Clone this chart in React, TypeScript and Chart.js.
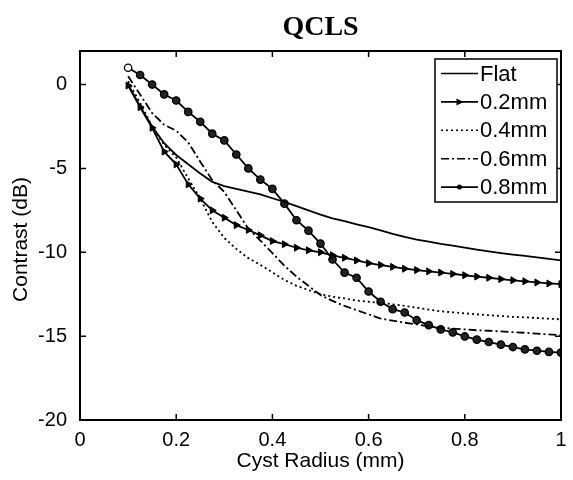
import React, { useEffect, useRef } from "react";
import { Chart, registerables } from "chart.js";

Chart.register(...registerables);

const chartTitle = "QCLS";
const xAxisTitle = "Cyst Radius (mm)";
const yAxisTitle = "Contrast (dB)";

const xTicks = [0, 0.2, 0.4, 0.6, 0.8, 1];
const yTicks = [-20, -15, -10, -5, 0];

const seriesNames = ["Flat", "0.2mm", "0.4mm", "0.6mm", "0.8mm"];

const radius = [
  0.1, 0.125, 0.15, 0.175, 0.2, 0.225, 0.25, 0.275, 0.3, 0.325, 0.35, 0.375,
  0.4, 0.425, 0.45, 0.475, 0.5, 0.525, 0.55, 0.575, 0.6, 0.625, 0.65, 0.675,
  0.7, 0.725, 0.75, 0.775, 0.8, 0.825, 0.85, 0.875, 0.9, 0.925, 0.95, 0.975, 1.0,
];

const flat = [
  0, -1.3, -2.5, -3.5, -4.2, -4.75, -5.3, -5.8, -6.05, -6.22, -6.38, -6.55,
  -6.78, -7.0, -7.25, -7.5, -7.75, -7.98, -8.15, -8.33, -8.5, -8.7, -8.9, -9.08,
  -9.24, -9.37, -9.5, -9.6, -9.72, -9.84, -9.95, -10.05, -10.14, -10.22, -10.3,
  -10.4, -10.48,
];

const mm02 = [
  -0.06, -1.35, -2.58, -4.0, -4.76, -5.95, -6.8, -7.5, -7.94, -8.38, -8.67,
  -8.99, -9.33, -9.52, -9.73, -9.88, -10.0, -10.18, -10.33, -10.49, -10.65,
  -10.76, -10.87, -10.98, -11.06, -11.14, -11.21, -11.29, -11.37, -11.45,
  -11.52, -11.6, -11.67, -11.73, -11.8, -11.86, -11.9,
];

const mm04 = [
  0.2, -1.1, -2.5, -3.6, -4.35, -5.6, -6.8, -8.2, -9.15, -9.8, -10.35, -10.75,
  -11.2, -11.65, -12.0, -12.25, -12.5, -12.65, -12.75, -12.88, -12.95, -13.02,
  -13.1, -13.2, -13.3, -13.42, -13.52, -13.58, -13.64, -13.7, -13.75, -13.8,
  -13.85, -13.88, -13.92, -13.96, -14.0,
];

const mm06 = [
  0.49, -0.6, -1.7, -2.4, -2.75, -3.45, -4.6, -5.7, -6.4, -7.5, -8.6, -9.3,
  -10.05, -10.8, -11.45, -12.0, -12.55, -12.9, -13.2, -13.45, -13.7, -13.95,
  -14.08, -14.2, -14.3, -14.42, -14.5, -14.55, -14.6, -14.65, -14.68, -14.72,
  -14.76, -14.8, -14.85, -14.9, -14.94,
];

const mm08 = [
  1.0, 0.57, 0.0, -0.59, -0.95, -1.63, -2.22, -2.93, -3.33, -4.17, -5.0, -5.67,
  -6.22, -7.1, -8.09, -8.71, -9.48, -10.43, -11.21, -11.52, -12.34, -12.95,
  -13.39, -13.59, -14.05, -14.34, -14.6, -14.78, -15.02, -15.21, -15.35,
  -15.51, -15.65, -15.79, -15.87, -15.94, -15.98,
];

const FONT = "'Liberation Sans', Arial, Helvetica, sans-serif";
const SERIF = "'Liberation Serif', 'Times New Roman', serif";

const dashes: number[][] = [[], [], [2, 3], [8, 3, 2, 3], []];

const toPts = (ys: number[]) => radius.map((x, i) => ({ x, y: ys[i] }));

const framePlugin = {
  id: "frame",
  afterDatasetsDraw(chart: any) {
    const { ctx, chartArea: a, scales } = chart;
    const xs = scales.x;
    const ys = scales.y;
    ctx.save();
    ctx.strokeStyle = "#000";
    ctx.lineWidth = 1.5;
    ctx.beginPath();
    const tl = 6;
    xTicks.forEach((v) => {
      const px = xs.getPixelForValue(v);
      ctx.moveTo(px, a.bottom);
      ctx.lineTo(px, a.bottom - tl);
      ctx.moveTo(px, a.top);
      ctx.lineTo(px, a.top + tl);
    });
    yTicks.forEach((v) => {
      const py = ys.getPixelForValue(v);
      ctx.moveTo(a.left, py);
      ctx.lineTo(a.left + tl, py);
      ctx.moveTo(a.right, py);
      ctx.lineTo(a.right - tl, py);
    });
    ctx.stroke();
    ctx.lineWidth = 2;
    ctx.strokeRect(a.left, a.top, a.right - a.left, a.bottom - a.top);

    // titles
    ctx.fillStyle = "#000";
    ctx.textAlign = "center";
    ctx.textBaseline = "middle";
    ctx.font = "bold 28px " + SERIF;
    ctx.fillText(chartTitle, (a.left + a.right) / 2, 28);
    ctx.font = "21px " + FONT;
    ctx.fillText(xAxisTitle, (a.left + a.right) / 2, 461);
    ctx.save();
    ctx.translate(21, (a.top + a.bottom) / 2 + 4);
    ctx.rotate(-Math.PI / 2);
    ctx.fillText(yAxisTitle, 0, 0);
    ctx.restore();
    ctx.restore();
  },
};

const legendPlugin = {
  id: "boxLegend",
  afterDraw(chart: any) {
    const { ctx } = chart;
    const bx = 435, by = 59, bw = 122, bh = 143;
    ctx.save();
    ctx.fillStyle = "#fff";
    ctx.fillRect(bx, by, bw, bh);
    ctx.strokeStyle = "#000";
    ctx.lineWidth = 1.5;
    ctx.strokeRect(bx, by, bw, bh);
    const rowH = 28.4;
    seriesNames.forEach((name, i) => {
      const y = by + 14.5 + i * rowH;
      const x0 = bx + 6, x1 = bx + 43;
      ctx.save();
      ctx.setLineDash(dashes[i]);
      ctx.lineWidth = 1.6;
      ctx.strokeStyle = "#000";
      ctx.beginPath();
      ctx.moveTo(x0, y);
      ctx.lineTo(x1, y);
      ctx.stroke();
      ctx.restore();
      const mx = (x0 + x1) / 2;
      ctx.fillStyle = "#000";
      if (i === 1) {
        ctx.beginPath();
        ctx.moveTo(mx + 4, y);
        ctx.lineTo(mx - 3, y - 3.5);
        ctx.lineTo(mx - 3, y + 3.5);
        ctx.closePath();
        ctx.fill();
      } else if (i === 4) {
        ctx.beginPath();
        ctx.arc(mx, y, 2.5, 0, Math.PI * 2);
        ctx.fill();
      }
      ctx.font = "22px " + FONT;
      ctx.textAlign = "left";
      ctx.textBaseline = "middle";
      ctx.fillText(name, x1 + 2, y + 1);
    });
    ctx.restore();
  },
};

export default function App() {
  const ref = useRef<HTMLCanvasElement>(null);
  useEffect(() => {
    document.body.style.margin = "0";
    const base = {
      borderColor: "#000",
      backgroundColor: "#000",
      borderWidth: 1.8,
      tension: 0,
      fill: false,
    };
    const chart = new Chart(ref.current as HTMLCanvasElement, {
      type: "line",
      data: {
        datasets: [
          { ...base, label: seriesNames[0], data: toPts(flat), pointRadius: 0 },
          {
            ...base,
            label: seriesNames[1],
            data: toPts(mm02),
            pointStyle: "triangle",
            pointRotation: 90,
            pointRadius: 4,
            pointBackgroundColor: "#000",
            pointBorderColor: "#000",
            pointBorderWidth: 1,
          },
          { ...base, label: seriesNames[2], data: toPts(mm04), pointRadius: 0, borderDash: dashes[2] },
          { ...base, label: seriesNames[3], data: toPts(mm06), pointRadius: 0, borderDash: dashes[3] },
          {
            ...base,
            label: seriesNames[4],
            data: toPts(mm08),
            pointStyle: "circle",
            pointRadius: 3.7,
            pointBackgroundColor: (c: any) => (c.dataIndex === 0 ? "#fff" : "#222"),
            pointBorderColor: "#000",
            pointBorderWidth: 1.3,
          },
        ] as any,
      },
      options: {
        animation: false,
        responsive: false,
        maintainAspectRatio: false,
        layout: { padding: { left: 0, right: 12, top: 51, bottom: 0 } },
        plugins: { legend: { display: false }, title: { display: false }, tooltip: { enabled: false } },
        scales: {
          x: {
            type: "linear",
            min: 0,
            max: 1,
            grid: { display: false },
            border: { display: false },
            afterBuildTicks: (s: any) => {
              s.ticks = xTicks.map((v) => ({ value: v }));
            },
            afterFit: (s: any) => {
              s.height = 60;
            },
            ticks: {
              color: "#000",
              padding: 0,
              maxRotation: 0,
              font: { family: FONT, size: 20 },
              callback: (v: any) => String(v),
            },
          },
          y: {
            type: "linear",
            min: -20,
            max: 2,
            grid: { display: false },
            border: { display: false },
            afterBuildTicks: (s: any) => {
              s.ticks = yTicks.map((v) => ({ value: v }));
            },
            afterFit: (s: any) => {
              s.width = 80;
            },
            ticks: {
              color: "#000",
              padding: 5,
              font: { family: FONT, size: 20 },
              callback: (v: any) => String(v),
            },
          },
        },
      } as any,
      plugins: [framePlugin, legendPlugin],
    });
    return () => chart.destroy();
  }, []);
  return (
    <div style={{ width: 573, height: 480, background: "#fff" }}>
      <canvas ref={ref} width={573} height={480} style={{ width: 573, height: 480 }} />
    </div>
  );
}
